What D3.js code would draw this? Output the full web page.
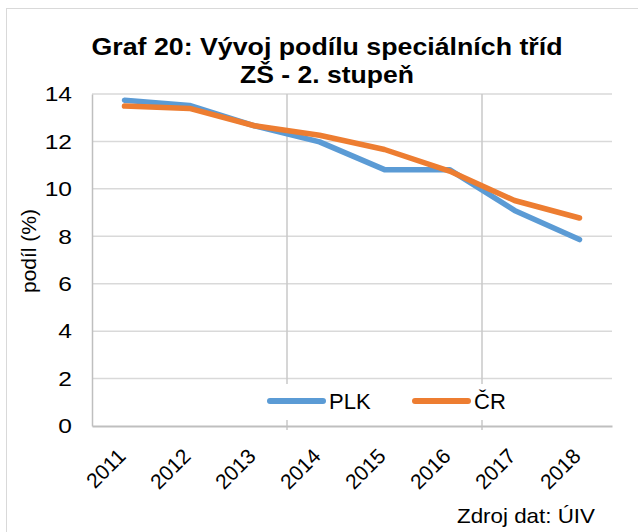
<!DOCTYPE html>
<html>
<head>
<meta charset="utf-8">
<script src="https://cdn.jsdelivr.net/npm/d3@7"></script>
<style>
  body { margin: 0; background: #fff; }
  svg { display: block; font-family: "Liberation Sans", Arial, sans-serif; }
</style>
</head>
<body>
<svg id="chart" width="638" height="532"></svg>
<script>
var years = ['2011', '2012', '2013', '2014', '2015', '2016', '2017', '2018'];
var plk = [13.74, 13.52, 12.66, 11.98, 10.81, 10.81, 9.09, 7.86];
var cr = [13.49, 13.39, 12.66, 12.26, 11.66, 10.75, 9.51, 8.77];
var yTicks = [0, 2, 4, 6, 8, 10, 12, 14];
var seriesNames = ['PLK', 'ČR'];
var colors = ['#5b9bd5', '#ed7d31'];

var margin = {left: 92, right: 26, top: 94, bottom: 106};
var width = 638, height = 532;
var font = '"Liberation Sans", Arial, sans-serif';
// the picture is slightly wider than tall, so text is stretched a bit
var stretch = 1.12;

var svg = d3.select('#chart');

// outer frame of the chart area
svg.append('rect')
    .attr('x', 6.5).attr('y', 8.5)
    .attr('width', 660).attr('height', 560)
    .attr('fill', 'none')
    .attr('stroke', '#d9d9d9');

var x = d3.scaleBand()
    .domain(years)
    .range([margin.left, width - margin.right]);

var y = d3.scaleLinear()
    .domain([0, 14])
    .range([height - margin.bottom, margin.top]);

// horizontal gridlines
svg.append('g')
    .selectAll('line')
    .data(yTicks.slice(1))
    .enter().append('line')
        .attr('x1', margin.left).attr('x2', width - margin.right)
        .attr('y1', d => y(d)).attr('y2', d => y(d))
        .attr('stroke', '#d9d9d9')
        .attr('stroke-width', 1.5);

// vertical gridlines every third category
var vlines = [3, 6].map(i => x(years[i]));
svg.append('g')
    .selectAll('line')
    .data(vlines)
    .enter().append('line')
        .attr('x1', d => d).attr('x2', d => d)
        .attr('y1', y(14)).attr('y2', y(0) + 4)
        .attr('stroke', '#c8c8c8')
        .attr('stroke-width', 1.5);

// y axis
var yAxis = svg.append('g')
    .attr('transform', 'translate(' + margin.left + ',0)')
    .call(d3.axisLeft(y).tickValues(yTicks).tickSize(0).tickPadding(20));
yAxis.select('.domain').attr('stroke', '#bfbfbf').attr('stroke-width', 1.5);
yAxis.selectAll('text')
    .attr('font-size', 21)
    .attr('fill', '#000')
    .attr('font-family', font)
    .attr('x', 0)
    .attr('transform', 'translate(-20,0) scale(' + (stretch + 0.05) + ',1)');

// x axis
var xAxis = svg.append('g')
    .attr('transform', 'translate(0,' + y(0) + ')')
    .call(d3.axisBottom(x).tickSize(0).tickPadding(0));
xAxis.select('.domain').attr('stroke', '#bfbfbf').attr('stroke-width', 2);
xAxis.selectAll('text')
    .attr('font-size', 21)
    .attr('fill', '#000')
    .attr('font-family', font)
    .attr('text-anchor', 'end')
    .attr('y', 0)
    .attr('dy', 0)
    .attr('transform', 'translate(2.5,31.5) rotate(-45)');

// lines
var line = d3.line()
    .x((d, i) => x(years[i]) + x.bandwidth() / 2)
    .y(d => y(d));

[plk, cr].forEach((s, i) => {
    svg.append('path')
        .datum(s)
        .attr('d', line)
        .attr('fill', 'none')
        .attr('stroke', colors[i])
        .attr('stroke-width', 5.5)
        .attr('stroke-linejoin', 'round')
        .attr('stroke-linecap', 'round');
});

// legend
var legend = svg.append('g');
legend.append('rect')
    .attr('x', 262).attr('y', 384)
    .attr('width', 256).attr('height', 36)
    .attr('fill', '#fff');
var legendX = [270, 415];
seriesNames.forEach((name, i) => {
    legend.append('line')
        .attr('x1', legendX[i]).attr('x2', legendX[i] + 53)
        .attr('y1', 401).attr('y2', 401)
        .attr('stroke', colors[i])
        .attr('stroke-width', 6)
        .attr('stroke-linecap', 'round');
    legend.append('text')
        .attr('x', legendX[i] + 59)
        .attr('y', 409)
        .attr('font-size', 22)
        .text(name);
});

// title
var title = svg.append('text')
    .attr('text-anchor', 'middle')
    .attr('font-size', 24)
    .attr('font-weight', 'bold');
title.append('tspan').attr('x', 327).attr('y', 55)
    .attr('textLength', 471).attr('lengthAdjust', 'spacingAndGlyphs')
    .text('Graf 20: Vývoj podílu speciálních tříd');
title.append('tspan').attr('x', 327).attr('y', 83)
    .attr('textLength', 174).attr('lengthAdjust', 'spacingAndGlyphs')
    .text('ZŠ - 2. stupeň');

// y axis title
svg.append('text')
    .attr('transform', 'translate(36,251) rotate(-90)')
    .attr('text-anchor', 'middle')
    .attr('font-size', 21)
    .text('podíl (%)');

// source
svg.append('text')
    .attr('x', 457)
    .attr('y', 523)
    .attr('font-size', 21)
    .attr('textLength', 138)
    .attr('lengthAdjust', 'spacingAndGlyphs')
    .text('Zdroj dat: ÚIV');
</script>
</body>
</html>
